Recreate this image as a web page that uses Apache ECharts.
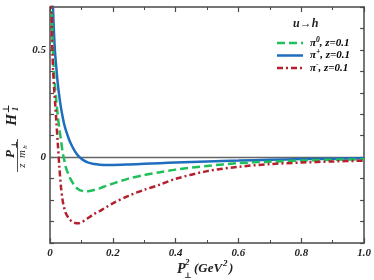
<!DOCTYPE html>
<html><head><meta charset="utf-8">
<script src="https://cdn.jsdelivr.net/npm/echarts@6/dist/echarts.min.js"></script>
<style>html,body{margin:0;padding:0;background:#fff}#c{width:374px;height:280px}</style>
</head><body><div id="c"></div>
<script>
const xVals = [0.004,0.006,0.008,0.01,0.013,0.016,0.02,0.025,0.03,0.035,0.04,0.045,0.05,0.06,0.07,0.08,0.09,0.1,0.11,0.12,0.14,0.16,0.18,0.2,0.25,0.3,0.35,0.4,0.5,0.6,0.7,0.8,0.9,1.0];
const piPlus  = [1.0,0.88,0.77,0.68,0.57,0.49,0.42,0.34,0.28,0.23,0.19,0.155,0.128,0.085,0.052,0.026,0.006,-0.007,-0.017,-0.024,-0.032,-0.035,-0.036,-0.036,-0.034,-0.031,-0.028,-0.025,-0.02,-0.016,-0.012,-0.009,-0.007,-0.005];
const piZero  = [0.85,0.66,0.55,0.47,0.39,0.33,0.265,0.19,0.13,0.08,0.025,-0.01,-0.045,-0.085,-0.114,-0.135,-0.149,-0.156,-0.159,-0.159,-0.153,-0.144,-0.133,-0.123,-0.1,-0.083,-0.07,-0.058,-0.041,-0.028,-0.021,-0.016,-0.012,-0.01];
const piMinus = [0.85,0.58,0.48,0.40,0.32,0.26,0.17,0.06,-0.05,-0.14,-0.2,-0.235,-0.26,-0.285,-0.3,-0.307,-0.308,-0.303,-0.295,-0.285,-0.265,-0.25,-0.232,-0.215,-0.18,-0.152,-0.128,-0.101,-0.065,-0.045,-0.032,-0.025,-0.02,-0.016];
const xTicks = [0,0.2,0.4,0.6,0.8,1.0];
const yTickLabels = [0,0.5];
const legendTitle = 'u→h';
const legendLabels = ['{i|π}{sup|0}{i|, z=0.1}', '{i|π}{sup|+}{i|, z=0.1}', '{i|π}{sup|-}{i|, z=0.1}'];

const pairs = arr => xVals.map((x,i)=>[x,arr[i]]);
const serif = '"Liberation Serif", "DejaVu Serif", serif';
const axisCol = '#4a4a4a';
const txtCol = '#222';
const lblStyle = {fontFamily: serif, fontStyle:'italic', fontWeight:'bold', fontSize:11, color:txtCol};
const colors = {green:'#1fbf5c', blue:'#1f6dbd', red:'#b4202e'};
const dashes = {green:[8,4], blue:null, red:[6,3,2,3]};

const richLegend = {
  i:{fontFamily:serif, fontStyle:'italic', fontWeight:'bold', fontSize:11, color:txtCol},
  sup:{fontFamily:serif, fontStyle:'italic', fontWeight:'bold', fontSize:7.5, color:txtCol, padding:[0,0,6,0]}
};
const legendRows = [['green',43],['blue',55.5],['red',68]];
const legendGraphics = [];
legendRows.forEach(([c,y],k)=>{
  const ls = {stroke:colors[c], lineWidth:2.5};
  if (dashes[c]) ls.lineDash = dashes[c];
  legendGraphics.push({type:'line', shape:{x1:277, y1:y, x2:303, y2:y}, style:ls, z:10});
  legendGraphics.push({type:'text', x:310, y:y, style:{text:legendLabels[k], verticalAlign:'middle', align:'left', rich:richLegend}, z:10});
});

const axisBase = {
  axisLine:{onZero:false, lineStyle:{color:axisCol, width:1.5}},
  splitLine:{show:false}
};

const chart = echarts.init(document.getElementById('c'));
chart.setOption({
  animation:false,
  grid:{left:50, right:9, top:7, bottom:37},
  xAxis:[{
    ...axisBase, type:'value', min:0, max:1, interval:0.2,
    axisTick:{inside:true, length:5, lineStyle:{color:axisCol, width:1.2}},
    minorTick:{show:true, splitNumber:2, length:3, lineStyle:{color:axisCol, width:1}},
    axisLabel:{margin:5, ...lblStyle, formatter:v=>{
      const t = xTicks.find(k=>Math.abs(k-v)<1e-9);
      if (t===undefined) return '';
      return t===0 ? '0' : t.toFixed(1);
    }}
  },{
    ...axisBase, type:'value', min:0, max:1, interval:0.2, position:'top',
    axisTick:{inside:true, length:5, lineStyle:{color:axisCol, width:1.2}},
    minorTick:{show:true, splitNumber:2, length:3, lineStyle:{color:axisCol, width:1}},
    axisLabel:{show:false}
  }],
  yAxis:[{
    ...axisBase, type:'value', min:-0.4, max:0.7, interval:0.1,
    axisLine:{show:true, onZero:false, lineStyle:{color:axisCol, width:1.5}},
    axisTick:{show:true, inside:true, length:4, lineStyle:{color:axisCol, width:1.2}},
    axisLabel:{margin:4, ...lblStyle, formatter:v=>{
      const t = yTickLabels.find(k=>Math.abs(k-v)<1e-9);
      return t===undefined ? '' : String(t);
    }}
  },{
    ...axisBase, type:'value', min:-0.4, max:0.7, interval:0.1, position:'right',
    axisLine:{show:true, onZero:false, lineStyle:{color:axisCol, width:1.5}},
    axisTick:{show:true, inside:true, length:4, lineStyle:{color:axisCol, width:1.2}},
    axisLabel:{show:false}
  }],
  series:[
    {name:'piplus', type:'line', data:pairs(piPlus), showSymbol:false, symbol:'none', smooth:0.3, z:3,
     lineStyle:{color:colors.blue, width:2.5},
     markLine:{silent:true, symbol:'none', label:{show:false}, lineStyle:{color:'#666', width:1.3, type:'solid'}, data:[{yAxis:0}], z:1}},
    {name:'pi0', type:'line', data:pairs(piZero), showSymbol:false, symbol:'none', smooth:0.3, z:4,
     lineStyle:{color:colors.green, width:2.5, type:dashes.green}},
    {name:'piminus', type:'line', data:pairs(piMinus), showSymbol:false, symbol:'none', smooth:0.3, z:5,
     lineStyle:{color:colors.red, width:2.5, type:dashes.red}}
  ],
  graphic:[
    {type:'text', x:293, y:24, style:{text:legendTitle, verticalAlign:'middle', font:'italic bold 12px '+serif, fill:txtCol}},
    ...legendGraphics,
    {type:'text', x:177, y:269, style:{text:'P', verticalAlign:'middle', font:'italic bold 14px '+serif, fill:txtCol}},
    {type:'text', x:185, y:263, style:{text:'2', verticalAlign:'middle', font:'italic bold 9px '+serif, fill:txtCol}},
    {type:'text', x:184, y:276, style:{text:'⊥', verticalAlign:'middle', font:'bold 8px '+serif, fill:txtCol}},
    {type:'text', x:194, y:269, style:{text:'(GeV', verticalAlign:'middle', font:'italic bold 13px '+serif, fill:txtCol}},
    {type:'text', x:223, y:264, style:{text:'2', verticalAlign:'middle', font:'italic bold 9px '+serif, fill:txtCol}},
    {type:'text', x:229, y:269, style:{text:')', verticalAlign:'middle', font:'italic bold 13px '+serif, fill:txtCol}},
    {type:'text', x:11, y:154, rotation:Math.PI/2, style:{text:'P', align:'center', verticalAlign:'middle', font:'italic bold 13px '+serif, fill:txtCol}},
    {type:'text', x:14.5, y:145, rotation:Math.PI/2, style:{text:'⊥', align:'center', verticalAlign:'middle', font:'bold 8px '+serif, fill:txtCol}},
    {type:'line', shape:{x1:17.5, y1:139, x2:17.5, y2:172}, style:{stroke:txtCol, lineWidth:0.8}},
    {type:'text', x:22.5, y:159, rotation:Math.PI/2, style:{text:'z  m', align:'center', verticalAlign:'middle', font:'italic 11px '+serif, fill:txtCol}},
    {type:'text', x:25.5, y:147, rotation:Math.PI/2, style:{text:'h', align:'center', verticalAlign:'middle', font:'italic 7px '+serif, fill:txtCol}},
    {type:'text', x:12, y:120, rotation:Math.PI/2, style:{text:'H', align:'center', verticalAlign:'middle', font:'italic bold 15px '+serif, fill:txtCol}},
    {type:'text', x:16, y:109, rotation:Math.PI/2, style:{text:'1', align:'center', verticalAlign:'middle', font:'italic bold 9px '+serif, fill:txtCol}},
    {type:'text', x:7, y:109, rotation:Math.PI/2, style:{text:'⊥', align:'center', verticalAlign:'middle', font:'bold 9px '+serif, fill:txtCol}}
  ]
});
</script></body></html>
